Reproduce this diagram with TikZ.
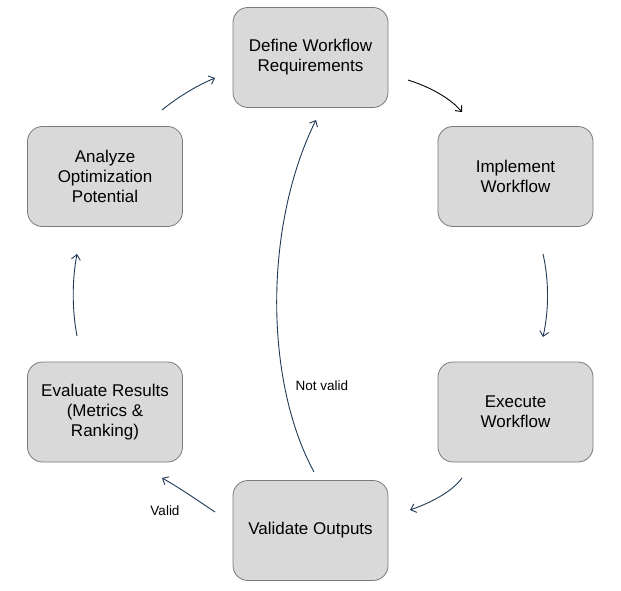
\documentclass[tikz,border=0pt]{standalone}
\usepackage{fontspec}
\setmainfont{Liberation Sans}
\usetikzlibrary{arrows.meta}
\definecolor{boxfill}{HTML}{D9D9D9}
\definecolor{boxline}{HTML}{7A7A7A}
\definecolor{arrowblue}{HTML}{1F3A56}
\begin{document}
\begin{tikzpicture}[x=1pt,y=-1pt,
  stepbox/.style={draw=boxline, fill=boxfill, rounded corners=15pt, line width=0.8pt,
    minimum width=155pt, minimum height=100pt, align=center,
    font=\fontsize{17}{20}\selectfont},
  flow/.style={draw=arrowblue, line width=0.9pt, -{Straight Barb[length=5pt,width=9pt]}},
  lbl/.style={font=\fontsize{13.5}{15}\selectfont}]
\useasboundingbox (0,0) rectangle (621,591);
\node[stepbox] (define) at (310.5,57.5) {Define Workflow\\Requirements};
\node[stepbox] (implement) at (515.5,176.5) {Implement\\Workflow};
\node[stepbox] (execute) at (515.5,412) {Execute\\Workflow};
\node[stepbox] (validate) at (310.5,530.5) {Validate Outputs};
\node[stepbox] (evaluate) at (105,412) {Evaluate Results\\(Metrics \&\\Ranking)};
\node[stepbox] (analyze) at (105,176.5) {Analyze\\Optimization\\Potential};
% connector end points
\coordinate (a1) at (408,80);   \coordinate (a2) at (462,112);
\coordinate (b1) at (543,254);  \coordinate (b2) at (543,337);
\coordinate (c1) at (462,478);  \coordinate (c2) at (410,510);
\coordinate (d1) at (215,512);  \coordinate (d2) at (162,478);
\coordinate (e1) at (77,336);   \coordinate (e2) at (77,254);
\coordinate (f1) at (162,110);  \coordinate (f2) at (215,78);
\coordinate (g1) at (314,472);  \coordinate (g2) at (316,120);
\draw[flow, draw=black] (a1) .. controls (430,87) and (450,98) .. (a2);
\draw[flow] (b1) .. controls (549,280) and (549,310) .. (b2);
\draw[flow] (c1) .. controls (452,492) and (430,503) .. (c2);
\draw[flow] (d1) .. controls (200,502) and (180,488) .. (d2);
\draw[flow] (e1) .. controls (72,310) and (72,280) .. (e2);
\draw[flow] (f1) .. controls (178,97) and (196,86) .. (f2);
\draw[flow] (g1) .. controls (264,380) and (264,225) .. (g2);
\node[lbl] (notvalid) at (322,386) {Not valid};
\node[lbl] (valid) at (165,511) {Valid};
\end{tikzpicture}
\end{document}
